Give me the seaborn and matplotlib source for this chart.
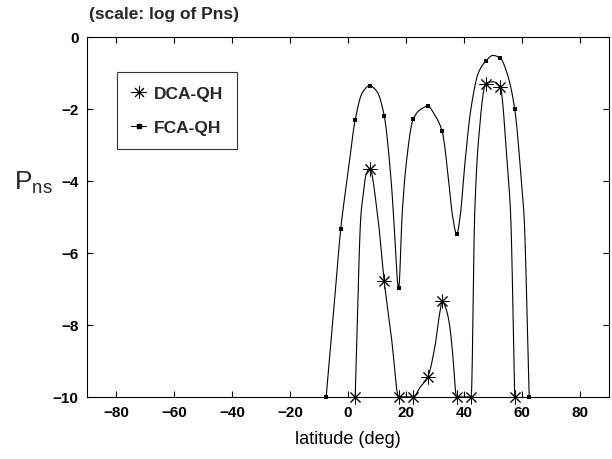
import numpy as np
import pandas as pd
import matplotlib
matplotlib.use("Agg")
import matplotlib.pyplot as plt
from matplotlib.lines import Line2D
import seaborn as sns

# Marked latitude bins (deg) and log10(Pns) for each scheme
dca_lat = [2.5, 7.5, 12.5, 17.5, 22.5, 27.5, 32.5, 37.5, 42.5, 47.5, 52.5, 57.5]
dca_val = [-10.0, -3.66, -6.78, -10.0, -10.0, -9.45, -7.35, -10.0, -10.0, -1.31, -1.39, -10.0]

fca_lat = [-7.5, -2.5, 2.5, 7.5, 12.5, 17.5, 22.5, 27.5, 32.5, 37.5, 47.5, 52.5, 57.5, 62.5]
fca_val = [-10.0, -5.35, -2.31, -1.36, -2.19, -6.98, -2.29, -1.93, -2.63, -5.48, -0.68, -0.59, -2.00, -10.0]

# Unmarked samples of the computed curves between the bins
dca_mid_lat = [4.5, 5.0, 6.2, 10.2, 15.0, 25.0, 30.0, 31.5, 34.0, 35.0, 36.0,
               43.7, 45.0, 50.0, 55.0, 56.1]
dca_mid_val = [-4.93, -4.55, -3.85, -4.93, -8.35, -9.72, -8.60, -7.75, -7.60, -7.98, -8.70,
               -4.93, -2.90, -1.25, -3.60, -4.93]

fca_mid_lat = [-5.0, -1.9, 0.0, 5.0, 10.0, 15.0, 15.7, 18.7, 20.0, 25.0, 30.0, 35.0, 36.0,
               38.8, 40.0, 42.5, 45.0, 50.0, 55.0, 60.0, 60.7]
fca_mid_val = [-7.7, -4.93, -3.80, -1.55, -1.52, -4.10, -4.93, -4.93, -3.60, -2.02, -2.18, -4.20, -4.93,
               -4.93, -3.80, -1.95, -1.00, -0.52, -1.05, -4.20, -4.93]

x_ticks = [-80, -60, -40, -20, 0, 20, 40, 60, 80]
y_ticks = [0, -2, -4, -6, -8, -10]


def pchip(x, y, xs):
    """Monotone piecewise cubic Hermite interpolation (Fritsch-Carlson)."""
    x = np.asarray(x, float)
    y = np.asarray(y, float)
    h = np.diff(x)
    d = np.diff(y) / h
    n = len(x)
    m = np.zeros(n)
    for k in range(1, n - 1):
        if d[k - 1] * d[k] > 0:
            w1 = 2 * h[k] + h[k - 1]
            w2 = h[k] + 2 * h[k - 1]
            m[k] = (w1 + w2) / (w1 / d[k - 1] + w2 / d[k])
    m[0] = d[0]
    m[-1] = d[-1]
    idx = np.clip(np.searchsorted(x, xs) - 1, 0, n - 2)
    hh = h[idx]
    t = (xs - x[idx]) / hh
    h00 = 2 * t ** 3 - 3 * t ** 2 + 1
    h10 = t ** 3 - 2 * t ** 2 + t
    h01 = -2 * t ** 3 + 3 * t ** 2
    h11 = t ** 3 - t ** 2
    return h00 * y[idx] + h10 * hh * m[idx] + h01 * y[idx + 1] + h11 * hh * m[idx + 1]


def curve_frame(lat, val, mid_lat, mid_val, name):
    pts = sorted(zip(list(lat) + list(mid_lat), list(val) + list(mid_val)))
    px = np.array([p[0] for p in pts])
    py = np.array([p[1] for p in pts])
    xs = np.linspace(px[0], px[-1], 1500)
    return pd.DataFrame({"lat": xs, "val": pchip(px, py, xs), "scheme": name})


sns.set_theme(style="ticks")
plt.rcParams["font.family"] = ["Liberation Sans", "DejaVu Sans"]
plt.rcParams["mathtext.fontset"] = "custom"
plt.rcParams["mathtext.rm"] = "Liberation Sans"

fig = plt.figure(figsize=(6.12, 4.6), dpi=100)
ax = fig.add_axes([0.142, 0.135, 0.853, 0.783])

curves = pd.concat([curve_frame(dca_lat, dca_val, dca_mid_lat, dca_mid_val, "DCA-QH"),
                    curve_frame(fca_lat, fca_val, fca_mid_lat, fca_mid_val, "FCA-QH")])
sns.lineplot(data=curves, x="lat", y="val", units="scheme", estimator=None,
             color="black", linewidth=0.8, legend=False, ax=ax, sort=False)

dca_pts = pd.DataFrame({"lat": dca_lat, "val": dca_val})
fca_pts = pd.DataFrame({"lat": fca_lat, "val": fca_val})
star = (8, 2, 0)
sns.scatterplot(data=dca_pts, x="lat", y="val", marker=star, s=90,
                color="black", linewidth=0.7, ax=ax, legend=False, zorder=4, clip_on=False)
sns.scatterplot(data=fca_pts, x="lat", y="val", marker="s", s=7,
                color="black", linewidth=0, ax=ax, legend=False, zorder=4, clip_on=False)

ax.set_xlim(-90, 90)
ax.set_ylim(-10, 0)
ax.set_xticks(x_ticks)
ax.set_yticks(y_ticks)
ax.tick_params(direction="in", length=4, width=0.8, top=True, right=True,
               labelsize=11, pad=6, color="black", labelcolor="black")
for lab in ax.get_xticklabels() + ax.get_yticklabels():
    lab.set_fontweight("bold")
for sp in ax.spines.values():
    sp.set_visible(True)
    sp.set_linewidth(0.8)
    sp.set_color("black")

ax.set_xlabel("latitude (deg)", fontsize=13, labelpad=8, color="black")
ax.set_ylabel("")

fig.text(14 / 612, 1 - 190 / 460, r"P$_{\mathrm{ns}}$", fontsize=19, ha="left", va="baseline")
fig.text(89 / 612, 1 - 15 / 460, "(scale: log of Pns)", fontsize=12.5, fontweight="bold",
         ha="left", va="center")

handles = [
    Line2D([0], [0], color="black", lw=0.8, marker=star, markersize=9, markeredgewidth=0.7),
    Line2D([0], [0], color="black", lw=0.8, marker="s", markersize=2.5),
]
leg = ax.legend(handles, ["DCA-QH", "FCA-QH"], loc="upper left",
                bbox_to_anchor=(0.0575, 0.902), borderaxespad=0, frameon=True, fancybox=False,
                edgecolor="black", handlelength=0.9, handletextpad=0.4,
                borderpad=0.8, labelspacing=1.08, prop={"size": 12.5, "weight": "bold"})
leg.get_frame().set_linewidth(0.8)

fig.savefig("out.png", dpi=100, facecolor="white")
